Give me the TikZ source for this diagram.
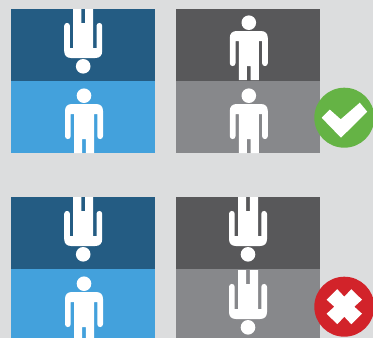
\documentclass[tikz,border=0pt]{standalone}
\usepackage{xcolor}
\usepackage{tikz}
\definecolor{pagegrey}{HTML}{DCDDDE}
\definecolor{deepblue}{HTML}{245C83}
\definecolor{skyblue}{HTML}{43A1DC}
\definecolor{deepgrey}{HTML}{58585A}
\definecolor{midgrey}{HTML}{87888B}
\definecolor{okgreen}{HTML}{65B345}
\definecolor{badred}{HTML}{D2232A}
\tikzset{
  person/.pic={
    \fill[white] (0,14.7) circle[radius=7.3pt];
    \fill[white] (-10,72) -- (-10,33) -- (-13.3,33) -- (-13.3,55.2)
      .. controls (-13.3,59) and (-19,59) .. (-19,55.2) -- (-19,30)
      .. controls (-19,25.5) and (-16.5,23) .. (-12,23) -- (12,23)
      .. controls (16.5,23) and (19,25.5) .. (19,30) -- (19,55.2)
      .. controls (19,59) and (13.3,59) .. (13.3,55.2) -- (13.3,33) -- (10,33) -- (10,72)
      -- (1.9,72) -- (1.9,58) -- (-1.9,58) -- (-1.9,72) -- cycle;
  }
}
\begin{document}
\begin{tikzpicture}[x=1pt, y=-1pt]
  \useasboundingbox (0,0) rectangle (373,338);
  \clip (0,0) rectangle (373,338);
  \fill[pagegrey] (0,0) rectangle (373,338);
  % panels
  \foreach \x/\y/\col in {11/9/deepblue, 11/81/skyblue, 176/9/deepgrey, 176/81/midgrey,
                          11/197/deepblue, 11/269/skyblue, 176/197/deepgrey, 176/269/midgrey} {
    \fill[\col] (\x,\y) rectangle (\x+144,\y+72);
  }
  % figures
  \foreach \x/\y/\flip in {83.2/81/-1, 84/81/1, 248.8/8/1, 248.8/81/1,
                           83.2/269/-1, 84/269/1, 248/269/-1, 248/342/-1} {
    \pic[yscale=\flip] at (\x,\y) {person};
  }
  % badges
  \fill[okgreen] (344.3,117.7) circle[radius=30pt];
  \fill[white] (321.7,117.8) -- (329.8,109.6) -- (340.7,119.3) -- (359.8,102.7) -- (367.2,111.7) -- (341,137.7) -- cycle;
  \fill[badred] (344.3,306.7) circle[radius=30pt];
  \begin{scope}[shift={(344.3,306.7)}]
    \fill[white] (0,-10) -- (7,-17.5) -- (17.7,-7) -- (10,0) -- (17.7,7) -- (7,17.5) -- (0,10) -- (-7,17.5) -- (-17.7,7) -- (-10,0) -- (-17.7,-7) -- (-7,-17.5) -- cycle;
  \end{scope}
\end{tikzpicture}
\end{document}
